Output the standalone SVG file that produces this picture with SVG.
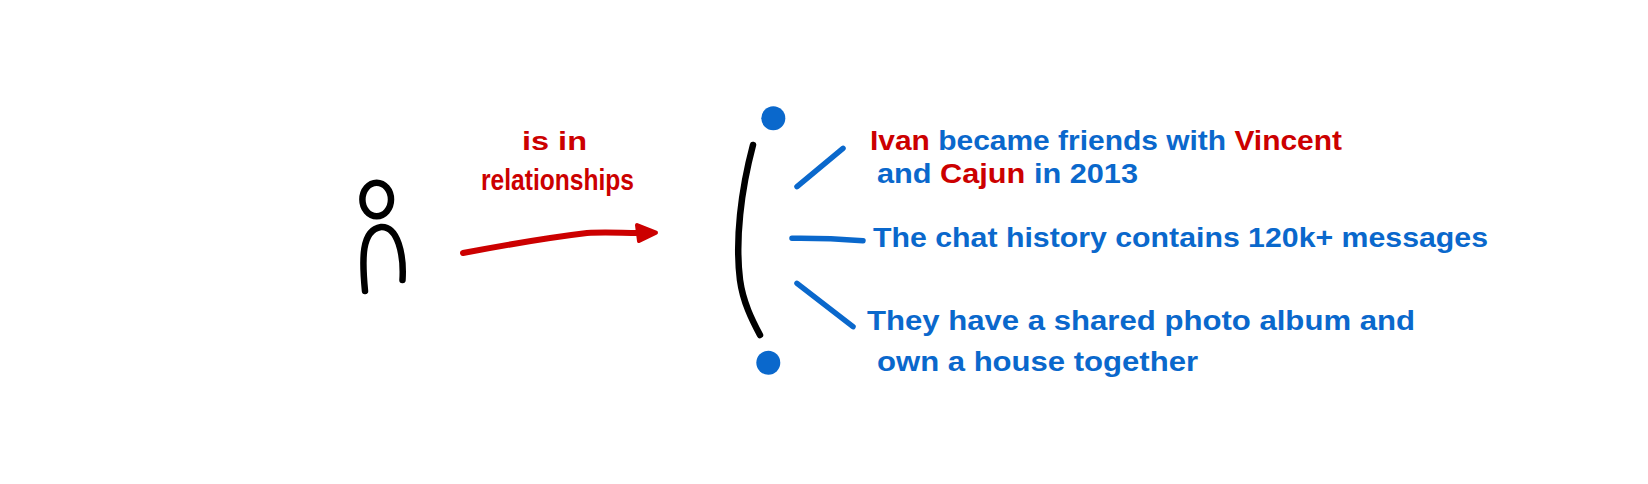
<svg xmlns="http://www.w3.org/2000/svg" width="1648" height="484" viewBox="0 0 1648 484">
<style>
.ink{fill:none;stroke-linecap:round;stroke-linejoin:round}
.blk{stroke:#000;stroke-width:6.5}
.blu{stroke:#0A68CC;stroke-width:5.5}
.red{stroke:#CC0000;stroke-width:6}
.t{font-family:"Liberation Sans",Arial,sans-serif;font-weight:bold;font-size:28px;fill:#0A68CC}
.r{fill:#CC0000}
.lbl{font-family:"Liberation Sans",Arial,sans-serif;font-weight:bold;fill:#CC0000}
</style>
<rect width="1648" height="484" fill="#fff"/>
<g id="person">
<ellipse cx="376.7" cy="199.5" rx="14.3" ry="16.8" class="ink blk" stroke-width="5.5"/>
<path d="M365,291 C362,260 361,230 381,227 C398,226 404,255 402.5,280" class="ink blk"/>
</g>
<g id="connectors">
<path d="M463,253 C500,246 545,238 587,233 C605,232 622,233 638,233" class="ink red"/>
<path d="M637,225 L656,232.7 L639,241 Z" fill="#CC0000" stroke="#CC0000" stroke-width="4" stroke-linejoin="round"/>
<path d="M797,186.7 L843,148.3" class="ink blu"/>
<path d="M792,238.3 C815,238 840,239 863,240.7" class="ink blu"/>
<path d="M797,283.3 L853,326.7" class="ink blu"/>
</g>
<g id="edge-label">
<text class="lbl" x="522" y="150" font-size="26" textLength="65" lengthAdjust="spacingAndGlyphs">is in</text>
<text class="lbl" x="481" y="190" font-size="30" textLength="153" lengthAdjust="spacingAndGlyphs">relationships</text>
</g>
<g id="relationship-facts">
<path d="M753,145 C741,190 735,240 740,280 C743,302 752,320 760,335" class="ink blk"/>
<circle cx="773.3" cy="118.3" r="12" fill="#0A68CC"/>
<circle cx="768.3" cy="362.7" r="12" fill="#0A68CC"/>
<text class="t" x="870" y="150" textLength="472" lengthAdjust="spacingAndGlyphs"><tspan class="r">Ivan</tspan> became friends with <tspan class="r">Vincent</tspan></text>
<text class="t" x="877" y="183" textLength="261" lengthAdjust="spacingAndGlyphs">and <tspan class="r">Cajun</tspan> in 2013</text>
<text class="t" x="873" y="247" textLength="615" lengthAdjust="spacingAndGlyphs">The chat history contains 120k+ messages</text>
<text class="t" x="867" y="330" textLength="548" lengthAdjust="spacingAndGlyphs">They have a shared photo album and</text>
<text class="t" x="877" y="371" textLength="321" lengthAdjust="spacingAndGlyphs">own a house together</text>
</g>
</svg>
